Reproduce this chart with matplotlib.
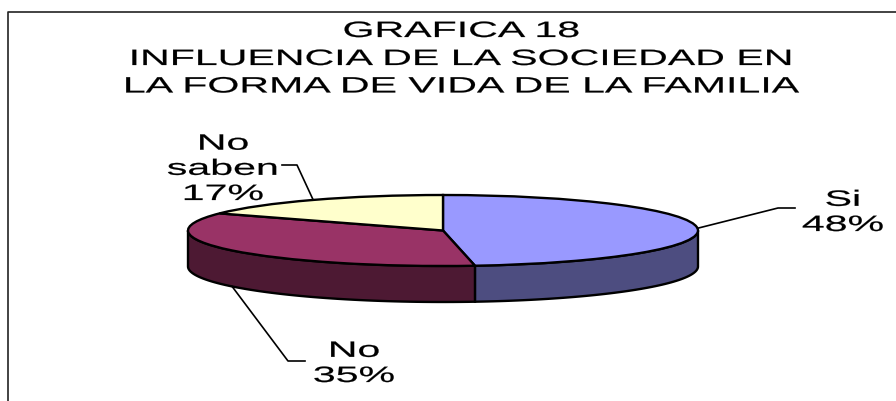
import numpy as np
import matplotlib
matplotlib.use("Agg")
import matplotlib.pyplot as plt
import matplotlib.patheffects as pe
from matplotlib.lines import Line2D
from matplotlib.patches import Polygon
from matplotlib.transforms import Affine2D

W, H = 896, 401

title_lines = ["GRAFICA 18", "INFLUENCIA DE LA SOCIEDAD EN", "LA FORMA DE VIDA DE LA FAMILIA"]
categories = ["Si", "No", "No\nsaben"]
percents = [48, 35, 17]
top_colors = ["#9999FF", "#993366", "#FFFFCC"]
side_colors = ["#4D4D80", "#4D1933", "#808066"]


# the reference text is stretched sideways, this keeps it real text
class StretchX(pe.AbstractPathEffect):
    def __init__(self, cx, sx):
        super().__init__()
        self.cx = cx
        self.sx = sx

    def draw_path(self, renderer, gc, tpath, affine, rgbFace=None):
        t = affine + Affine2D().translate(-self.cx, 0).scale(self.sx, 1).translate(self.cx, 0)
        gc0 = renderer.new_gc()
        gc0.copy_properties(gc)
        gc0.set_linewidth(0.15)
        gc0.set_foreground("black")
        renderer.draw_path(gc0, tpath, t, rgbFace)
        gc0.restore()


def fx(x):
    return x / W


def fy(y):
    return 1 - y / H


plt.rcParams["font.family"] = ["Liberation Sans", "DejaVu Sans"]
fig = plt.figure(figsize=(W / 100, H / 100), dpi=100)

# pie box in pixels
left, right, top, bottom = 188, 698, 195, 266
depth = 36
a = (right - left) / 2
b = (bottom - top) / 2
cx = (left + right) / 2
cy = (bottom + top) / 2

ax = fig.add_axes([fx(left), fy(bottom + depth), (right - left) / W, (bottom + depth - top) / H])
ax.pie(percents, colors=top_colors, startangle=90, counterclock=False, radius=1,
       wedgeprops=dict(edgecolor="black", linewidth=1.7, zorder=3))
ax.set_aspect("auto")
ax.set_xlim(-1, 1)
ax.set_ylim(-1 - 2 * depth / (bottom - top), 1)
for p in ax.patches:
    p.set_clip_on(False)

# side wall of the visible front half
edges = np.cumsum([0] + percents) * 3.6
h = 2 * depth / (bottom - top)
for i in range(len(percents)):
    t0, t1 = max(edges[i], 90), min(edges[i + 1], 270)
    if t1 <= t0:
        continue
    th = np.radians(np.linspace(t0, t1, 60))
    xs, ys = np.sin(th), np.cos(th)
    pts = np.r_[np.c_[xs, ys], np.c_[xs[::-1], ys[::-1] - h]]
    ax.add_patch(Polygon(pts, closed=True, facecolor=side_colors[i], edgecolor="black",
                         linewidth=1.7, zorder=2, clip_on=False))


def rim(pct_pos, lower=0):
    th = np.radians(pct_pos * 3.6)
    return cx + a * np.sin(th), cy - b * np.cos(th) + lower


# frame, only left and top
fig.add_artist(Line2D([fx(8), fx(8), fx(896)], [fy(401), fy(12), fy(12)], color="#222222", lw=1.2))

# leader lines start at the middle of each slice
mids = (np.cumsum([0] + percents)[:-1] + np.array(percents) / 2)
x0, y0 = rim(mids[0])
fig.add_artist(Line2D([fx(x0), fx(778), fx(795)], [fy(y0), fy(208), fy(208)], color="black", lw=1.2))
x0, y0 = rim(mids[1], depth)
fig.add_artist(Line2D([fx(x0), fx(288), fx(305)], [fy(y0), fy(361), fy(361)], color="black", lw=1.2))
x0, y0 = rim(mids[2])
fig.add_artist(Line2D([fx(x0), fx(297), fx(282)], [fy(y0), fy(165), fy(165)], color="black", lw=1.2))

title_cx = 461.5
for line, yy in zip(title_lines, [37, 65, 92.5]):
    fig.text(fx(title_cx), fy(yy), line, ha="center", va="baseline", fontsize=16, color="black",
             path_effects=[StretchX(title_cx, 1.85)])

label_pos = [(843, 231), (354, 382), (223, 200)]
for cat, pct, (lx, ly) in zip(categories, percents, label_pos):
    fig.text(fx(lx), fy(ly), f"{cat}\n{pct}%", ha="center", va="baseline", fontsize=16, color="black",
             linespacing=1.26, path_effects=[StretchX(lx, 1.85)])

fig.savefig("out.png", dpi=100)
